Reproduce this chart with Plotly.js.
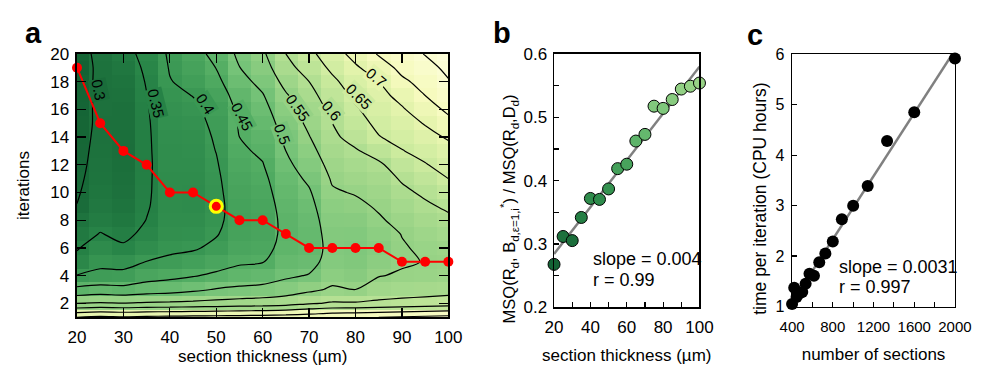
<!DOCTYPE html>
<html><head><meta charset="utf-8">
<script src="https://cdn.plot.ly/plotly-3.0.1.min.js"></script>
<style>html,body{margin:0;padding:0;background:#fff}#chart{width:987px;height:367px}</style>
</head><body><div id="chart"></div>
<script>
// ---------- DATA ----------
const thickness = [20,25,30,35,40,45,50,55,60,65,70,75,80,85,90,95,100];
const iterations = [1,2,3,4,5,6,7,8,9,10,11,12,13,14,15,16,17,18,19,20];
// MSQ ratio per section thickness (columns), iterations 1..20
const msq_t20  = [0.700,0.550,0.462,0.402,0.362,0.347,0.330,0.315,0.301,0.296,0.292,0.288,0.285,0.282,0.280,0.278,0.275,0.272,0.268,0.275];
const msq_t25  = [0.710,0.555,0.470,0.410,0.390,0.370,0.352,0.337,0.328,0.322,0.318,0.316,0.314,0.312,0.310,0.311,0.312,0.313,0.314,0.316];
const msq_t30  = [0.705,0.552,0.465,0.412,0.385,0.356,0.340,0.327,0.318,0.312,0.308,0.306,0.305,0.306,0.308,0.310,0.313,0.318,0.325,0.333];
const msq_t35  = [0.710,0.556,0.475,0.430,0.401,0.375,0.360,0.351,0.346,0.344,0.343,0.342,0.3425,0.343,0.344,0.346,0.349,0.353,0.358,0.365];
const msq_t40  = [0.712,0.558,0.480,0.438,0.410,0.390,0.380,0.375,0.373,0.372,0.373,0.374,0.376,0.378,0.381,0.385,0.390,0.398,0.403,0.407];
const msq_t45  = [0.714,0.562,0.490,0.447,0.418,0.395,0.381,0.374,0.371,0.370,0.372,0.374,0.377,0.380,0.385,0.392,0.401,0.413,0.423,0.432];
const msq_t50  = [0.716,0.566,0.503,0.458,0.430,0.410,0.397,0.390,0.387,0.389,0.392,0.396,0.401,0.405,0.410,0.415,0.425,0.438,0.451,0.464];
const msq_t55  = [0.718,0.570,0.510,0.468,0.444,0.430,0.423,0.420,0.422,0.426,0.430,0.436,0.443,0.450,0.454,0.460,0.470,0.485,0.499,0.510];
const msq_t60  = [0.720,0.574,0.515,0.474,0.448,0.435,0.428,0.426,0.429,0.434,0.440,0.448,0.457,0.465,0.475,0.485,0.497,0.513,0.528,0.542];
const msq_t65  = [0.724,0.580,0.525,0.492,0.476,0.466,0.462,0.463,0.467,0.473,0.480,0.490,0.500,0.510,0.520,0.532,0.545,0.565,0.585,0.600];
const msq_t70  = [0.730,0.596,0.540,0.503,0.482,0.473,0.475,0.479,0.486,0.495,0.508,0.522,0.535,0.548,0.560,0.572,0.585,0.600,0.620,0.638];
const msq_t75  = [0.740,0.605,0.556,0.535,0.522,0.518,0.521,0.527,0.535,0.545,0.555,0.566,0.578,0.590,0.600,0.612,0.625,0.640,0.660,0.677];
const msq_t80  = [0.745,0.605,0.550,0.528,0.517,0.514,0.519,0.528,0.540,0.553,0.567,0.580,0.595,0.618,0.632,0.645,0.660,0.675,0.693,0.717];
const msq_t85  = [0.750,0.610,0.570,0.548,0.534,0.527,0.535,0.545,0.555,0.566,0.578,0.592,0.620,0.648,0.661,0.672,0.685,0.700,0.727,0.754];
const msq_t90  = [0.755,0.615,0.575,0.555,0.545,0.547,0.551,0.562,0.575,0.590,0.605,0.625,0.648,0.665,0.680,0.695,0.715,0.742,0.762,0.778];
const msq_t95  = [0.760,0.620,0.578,0.558,0.5515,0.556,0.565,0.578,0.592,0.608,0.625,0.647,0.665,0.685,0.703,0.727,0.750,0.765,0.785,0.802];
const msq_t100 = [0.765,0.625,0.582,0.562,0.555,0.563,0.575,0.590,0.608,0.628,0.650,0.668,0.685,0.705,0.735,0.760,0.778,0.797,0.810,0.825];

// optimal iteration per thickness (red path) and highlighted point
const optIter = [19,15,13,12,10,10,9,8,8,7,6,6,6,6,5,5,5];
const highlightThickness = [50];
const highlightIter = [9];

// panel b: MSQ ratio at optimal iteration
const msqAtOpt = [0.268,0.312,0.3055,0.342,0.372,0.3705,0.387,0.419,0.426,0.4625,0.473,0.5175,0.514,0.528,0.5445,0.549,0.554];

// panel c: number of sections vs CPU hours per iteration
const nSections = [2000,1600,1333,1143,1000,889,800,727,667,615,571,533,500,471,444,421,400];
const cpuHours  = [5.92,4.85,4.28,3.39,3.00,2.73,2.29,2.05,1.88,1.61,1.65,1.45,1.29,1.26,1.19,1.37,1.05];

// contour levels and the levels that carry an inline label
const contourLevels = {start:0.3, end:0.8, size:0.05};
const labelLevels = [0.3,0.35,0.4,0.45,0.5,0.55,0.6,0.65,0.7];
// label placement (layout only)
const labelAtX   = [24.6,37.0,47.6,55.6,64.3,67.5,74.8,80.7,84.5];
const labelAtY   = [17.4,16.4,16.4,15.5,14.2,16.1,15.9,16.9,18.3];
const labelAngle = [78,76,58,62,70,55,50,45,40];

// ---------- BUILD ----------
const columns = [msq_t20,msq_t25,msq_t30,msq_t35,msq_t40,msq_t45,msq_t50,msq_t55,msq_t60,msq_t65,msq_t70,msq_t75,msq_t80,msq_t85,msq_t90,msq_t95,msq_t100];
const zGrid = iterations.map((_, i) => columns.map(col => col[i]));

function linfit(x, y){
  const n = x.length;
  const mx = x.reduce((a,b)=>a+b,0)/n, my = y.reduce((a,b)=>a+b,0)/n;
  let sxy=0, sxx=0;
  for(let i=0;i<n;i++){ sxy += (x[i]-mx)*(y[i]-my); sxx += (x[i]-mx)*(x[i]-mx); }
  const b = sxy/sxx; return {a: my - b*mx, b};
}

const cmin = 0.22, cmax = 0.85;
const stops = [[0.22,[8,84,42]],[0.30,[26,108,58]],[0.35,[38,130,70]],[0.40,[58,152,84]],
  [0.45,[84,174,100]],[0.50,[118,195,120]],[0.55,[150,210,133]],[0.60,[178,223,146]],
  [0.65,[205,235,159]],[0.70,[229,244,173]],[0.75,[246,250,190]],[0.85,[255,255,226]]];
const cscale = stops.map(s => [(s[0]-cmin)/(cmax-cmin), 'rgb('+s[1].join(',')+')']);
function colorAt(v){
  for(let i=1;i<stops.length;i++){
    if(v <= stops[i][0]){
      const t = (v-stops[i-1][0])/(stops[i][0]-stops[i-1][0]);
      const c = stops[i-1][1].map((a,k)=>Math.round(a + t*(stops[i][1][k]-a)));
      return 'rgb('+c.join(',')+')';
    }
  }
  return 'rgb('+stops[stops.length-1][1].join(',')+')';
}

const FONT = 'Liberation Sans, Arial, sans-serif';

const fitB = linfit(thickness, msqAtOpt);
const fitC = linfit(nSections, cpuHours);
const bx = [20, 100], cx = [400, 2000];

const traces = [
  {type:'heatmap', x:thickness, y:iterations, z:zGrid, xaxis:'x', yaxis:'y', zsmooth:false,
   colorscale:cscale, zmin:cmin, zmax:cmax, showscale:false, hoverinfo:'skip'},
  {type:'contour', x:thickness, y:iterations, z:zGrid, xaxis:'x', yaxis:'y', showscale:false, hoverinfo:'skip',
   contours:{start:contourLevels.start, end:contourLevels.end, size:contourLevels.size, coloring:'none', showlabels:false},
   line:{color:'black', width:1.2, smoothing:0.8}},
  {type:'scatter', mode:'lines+markers', x:thickness, y:optIter, xaxis:'x', yaxis:'y', cliponaxis:false,
   line:{color:'#ff0000', width:2}, marker:{color:'#ff0000', size:10}},
  {type:'scatter', mode:'markers', x:highlightThickness, y:highlightIter, xaxis:'x', yaxis:'y', cliponaxis:false,
   marker:{color:'#ff0000', size:12, line:{color:'#ffff00', width:3}}},
  {type:'scatter', mode:'lines', x:bx, y:bx.map(v=>fitB.a+fitB.b*v), xaxis:'x2', yaxis:'y2',
   line:{color:'#808080', width:2.5}},
  {type:'scatter', mode:'markers', x:thickness, y:msqAtOpt, xaxis:'x2', yaxis:'y2', cliponaxis:false,
   marker:{size:12, color:msqAtOpt, colorscale:cscale, cmin:cmin, cmax:cmax, line:{color:'black', width:1}}},
  {type:'scatter', mode:'lines', x:cx, y:cx.map(v=>fitC.a+fitC.b*v), xaxis:'x3', yaxis:'y3',
   line:{color:'#808080', width:2.5}},
  {type:'scatter', mode:'markers', x:nSections, y:cpuHours, xaxis:'x3', yaxis:'y3', cliponaxis:false,
   marker:{size:12, color:'black'}}
];

const axBase = {showgrid:false, zeroline:false, showline:true, linecolor:'black', linewidth:1.5,
  ticks:'inside', tickcolor:'black', tickwidth:1.2, tickfont:{family:FONT, size:17, color:'black'}};

const P = v => v/987, Q = v => 1 - v/367;

const contourLabels = labelLevels.map((lv, i) => ({
  text: String(lv), xref:'x', yref:'y', x:labelAtX[i], y:labelAtY[i], textangle:labelAngle[i],
  showarrow:false, font:{family:FONT, size:15, color:'black'}, bgcolor:colorAt(lv), borderpad:0,
  xanchor:'center', yanchor:'middle'
}));

const layout = {
  width:987, height:367, margin:{l:0,r:0,t:0,b:0}, showlegend:false,
  paper_bgcolor:'white', plot_bgcolor:'white', font:{family:FONT, size:16, color:'black'},
  xaxis: Object.assign({}, axBase, {domain:[P(66),P(449)], range:[20,100], tick0:20, dtick:10, ticklen:9, mirror:'ticks', anchor:'y',
     ticklabelstandoff:4, title:{text:'section thickness (µm)', font:{size:17}, standoff:4}, automargin:true}),
  yaxis: Object.assign({}, axBase, {domain:[Q(316),Q(46)], range:[1,20], tickvals:[2,4,6,8,10,12,14,16,18,20], ticklen:9, mirror:'ticks', anchor:'x',
     ticklabelstandoff:3, title:{text:'iterations', font:{size:17}, standoff:16}, automargin:true}),
  xaxis2: Object.assign({}, axBase, {domain:[P(558),P(708)], range:[20,100], tick0:20, dtick:20, ticklen:5, mirror:true, anchor:'y2',
     ticklabelstandoff:4, minor:{dtick:10, ticks:'inside', ticklen:5, tickcolor:'black'},
     title:{text:'section thickness (µm)', font:{size:17}, standoff:12}, automargin:true}),
  yaxis2: Object.assign({}, axBase, {domain:[Q(306),Q(46)], range:[0.2,0.6], dtick:0.1, tick0:0.2, tickformat:'.1f', ticklen:5, mirror:true, anchor:'x2',
     ticklabelstandoff:2, minor:{dtick:0.05, ticks:'inside', ticklen:5, tickcolor:'black'}}),
  xaxis3: Object.assign({}, axBase, {domain:[P(803.5),P(971.5)], range:[400,2000], tickvals:[400,800,1200,1600,2000], ticklen:5, mirror:true, anchor:'y3',
     tickfont:{family:FONT, size:15, color:'black'}, ticklabelstandoff:6,
     minor:{dtick:200, tick0:400, ticks:'inside', ticklen:5, tickcolor:'black'},
     title:{text:'number of sections', font:{size:17}, standoff:14}, automargin:true}),
  yaxis3: Object.assign({}, axBase, {domain:[Q(305),Q(46.5)], range:[1,6], dtick:1, ticklen:5, mirror:true, anchor:'x3',
     tickfont:{family:FONT, size:16, color:'black'}, ticklabelstandoff:3}),
  annotations: contourLabels.concat([
    {text:'<b>a</b>', xref:'paper', yref:'paper', x:P(21), y:Q(25), showarrow:false, font:{size:29}, xanchor:'center', yanchor:'middle'},
    {text:'<b>b</b>', xref:'paper', yref:'paper', x:P(504), y:Q(25), showarrow:false, font:{size:29}, xanchor:'center', yanchor:'middle'},
    {text:'<b>c</b>', xref:'paper', yref:'paper', x:P(765), y:Q(27), showarrow:false, font:{size:29}, xanchor:'center', yanchor:'middle'},
    {text:'MSQ(R<sub>d</sub>, B<sub>d,ε=1,i</sub><sup>*</sup>) / MSQ(R<sub>d</sub>,D<sub>d</sub>)', xref:'paper', yref:'paper', x:P(512), y:Q(205), textangle:-90, showarrow:false, font:{size:16.5}, xanchor:'center', yanchor:'middle'},
    {text:'time per iteration (CPU hours)', xref:'paper', yref:'paper', x:P(771), y:Q(195), textangle:-90, showarrow:false, font:{size:17.5}, xanchor:'center', yanchor:'middle'},
    {text:'slope = 0.004', xref:'paper', yref:'paper', x:P(596), y:Q(256), showarrow:false, font:{size:18}, xanchor:'left', yanchor:'middle'},
    {text:'r = 0.99', xref:'paper', yref:'paper', x:P(596), y:Q(278), showarrow:false, font:{size:18}, xanchor:'left', yanchor:'middle'},
    {text:'slope = 0.0031', xref:'paper', yref:'paper', x:P(850), y:Q(264), showarrow:false, font:{size:18}, xanchor:'left', yanchor:'middle'},
    {text:'r = 0.997', xref:'paper', yref:'paper', x:P(850), y:Q(285), showarrow:false, font:{size:18}, xanchor:'left', yanchor:'middle'}
  ])
};

Plotly.newPlot('chart', traces, layout, {displayModeBar:false, staticPlot:true});
</script></body></html>
